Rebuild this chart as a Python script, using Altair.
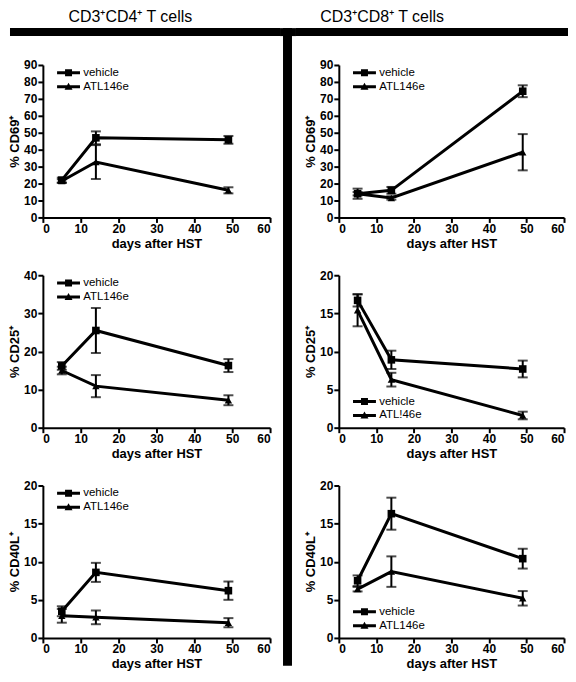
import altair as alt
import pandas as pd

# ---------------- data ----------------
days = [5, 14, 49]

cd4_cd69_vehicle = [22.0, 47.0, 45.8]
cd4_cd69_vehicle_err = [1.5, 3.8, 2.3]
cd4_cd69_atl = [21.5, 32.7, 16.0]
cd4_cd69_atl_err = [1.0, 10.0, 1.8]

cd8_cd69_vehicle = [14.0, 16.0, 74.5]
cd8_cd69_vehicle_err = [3.0, 2.0, 3.5]
cd8_cd69_atl = [14.0, 11.5, 38.5]
cd8_cd69_atl_err = [1.0, 1.0, 10.7]

cd4_cd25_vehicle = [16.2, 25.5, 16.3]
cd4_cd25_vehicle_err = [1.0, 5.9, 1.7]
cd4_cd25_atl = [15.0, 10.9, 7.2]
cd4_cd25_atl_err = [1.0, 2.9, 1.3]

cd8_cd25_vehicle = [16.7, 8.9, 7.7]
cd8_cd25_vehicle_err = [0.8, 1.2, 1.1]
cd8_cd25_atl = [15.4, 6.3, 1.6]
cd8_cd25_atl_err = [2.1, 0.9, 0.5]

cd4_cd40l_vehicle = [3.5, 8.6, 6.2]
cd4_cd40l_vehicle_err = [0.65, 1.25, 1.2]
cd4_cd40l_atl = [2.9, 2.7, 2.0]
cd4_cd40l_atl_err = [0.9, 0.9, 0.6]

cd8_cd40l_vehicle = [7.5, 16.3, 10.4]
cd8_cd40l_vehicle_err = [0.7, 2.1, 1.3]
cd8_cd40l_atl = [6.4, 8.7, 5.2]
cd8_cd40l_atl_err = [0.3, 2.0, 0.95]

x_ticks = [0, 10, 20, 30, 40, 50, 60]

FONT = "Liberation Sans"
W_L, W_R, H = 228, 226, 153
VSP = 19
SEP_W = 16
BAR_TOP = -37
BAR_H = 8

SYM_VEH = "M-2.3,-0.3H2.3V0.3H-2.3Z M-0.7,-0.7H0.7V0.7H-0.7Z"
SYM_ATL = "M-2.3,-0.3H2.3V0.3H-2.3Z M0,-0.8L0.8,0.6H-0.8Z"


def panel(veh, veh_err, atl, atl_err, ytitle, ymax, ystep, width,
          labels=("vehicle", "ATL146e"), xtitle="days after HST",
          legend_bottom=False, hbar=None):
    rows = []
    for name, vals, errs in ((labels[0], veh, veh_err), (labels[1], atl, atl_err)):
        for d, v, e in zip(days, vals, errs):
            rows.append({"day": d, "series": name, "mean": v,
                         "lo": v - e, "hi": v + e})
    df = pd.DataFrame(rows)

    xscale = alt.Scale(domain=[0, 60], nice=False)
    yscale = alt.Scale(domain=[0, ymax], nice=False)
    xaxis = alt.Axis(values=x_ticks, title=xtitle)
    yaxis = alt.Axis(values=list(range(0, ymax + 1, ystep)), title=ytitle)

    def X():
        return alt.X("day:Q", scale=xscale, axis=xaxis)

    def Y(field):
        return alt.Y(f"{field}:Q", scale=yscale, axis=yaxis)

    base = alt.Chart(df)
    err = base.mark_rule(color="black", strokeWidth=2).encode(
        x=X(), y=Y("lo"), y2="hi:Q")
    cap_hi = base.mark_tick(color="black", thickness=2, size=10,
                            orient="horizontal").encode(x=X(), y=Y("hi"))
    cap_lo = base.mark_tick(color="black", thickness=2, size=10,
                            orient="horizontal").encode(x=X(), y=Y("lo"))
    line = base.mark_line(color="black", strokeWidth=3).encode(
        x=X(), y=Y("mean"), detail="series:N")
    sq = base.transform_filter(alt.datum.series == labels[0]).mark_point(
        shape="square", filled=True, color="black", size=58, opacity=1
    ).encode(x=X(), y=Y("mean"))
    tri = base.transform_filter(alt.datum.series == labels[1]).mark_point(
        shape="triangle-up", filled=True, color="black", size=55, opacity=1
    ).encode(x=X(), y=Y("mean"))

    leg_y = H - 32 if legend_bottom else 2
    legend_layer = base.transform_filter("false").mark_point(
        filled=True, fill="black", strokeWidth=0, opacity=1
    ).encode(
        x=X(), y=Y("mean"),
        shape=alt.Shape(
            "series:N",
            scale=alt.Scale(domain=list(labels), range=[SYM_VEH, SYM_ATL]),
            legend=alt.Legend(
                title=None, orient="none", legendX=20, legendY=leg_y,
                symbolSize=100, symbolFillColor="black",
                symbolStrokeWidth=0, symbolOpacity=1,
                labelFont=FONT, labelFontSize=11.5, labelColor="black",
                labelOffset=9, rowPadding=1, padding=0)))

    layers = [line, err, cap_hi, cap_lo, sq, tri, legend_layer]
    if hbar is not None:
        layers.append(alt.Chart(pd.DataFrame({"k": [0]})).mark_rect(color="black").encode(
            x=alt.value(hbar[0]), x2=alt.value(hbar[1]),
            y=alt.value(BAR_TOP), y2=alt.value(BAR_TOP + BAR_H)))
    return alt.layer(*layers).properties(width=width, height=H).resolve_scale(
        shape="independent")


p1 = panel(cd4_cd69_vehicle, cd4_cd69_vehicle_err, cd4_cd69_atl, cd4_cd69_atl_err,
           "% CD69⁺", 90, 10, W_L, hbar=(-33, W_L + 10))
p2 = panel(cd8_cd69_vehicle, cd8_cd69_vehicle_err, cd8_cd69_atl, cd8_cd69_atl_err,
           "% CD69⁺", 90, 10, W_R, hbar=(-43, W_R + 4))
p3 = panel(cd4_cd25_vehicle, cd4_cd25_vehicle_err, cd4_cd25_atl, cd4_cd25_atl_err,
           "% CD25⁺", 40, 10, W_L)
p4 = panel(cd8_cd25_vehicle, cd8_cd25_vehicle_err, cd8_cd25_atl, cd8_cd25_atl_err,
           "% CD25⁺", 20, 5, W_R, labels=("vehicle", "ATL!46e"),
           xtitle="days after  HST", legend_bottom=True)
p5 = panel(cd4_cd40l_vehicle, cd4_cd40l_vehicle_err, cd4_cd40l_atl, cd4_cd40l_atl_err,
           "% CD40L⁺", 20, 5, W_L)
p6 = panel(cd8_cd40l_vehicle, cd8_cd40l_vehicle_err, cd8_cd40l_atl, cd8_cd40l_atl_err,
           "% CD40L⁺", 20, 5, W_R, legend_bottom=True)

title_params = dict(fontSize=16, fontWeight="normal", font=FONT, color="black",
                    offset=3, anchor="middle")

left = alt.vconcat(p1, p3, p5, spacing=VSP).properties(
    title=alt.TitleParams("CD3⁺CD4⁺ T cells", dx=-14, **title_params)
).resolve_scale(shape="independent").resolve_legend(shape="independent")
right = alt.vconcat(p2, p4, p6, spacing=VSP).properties(
    title=alt.TitleParams("CD3⁺CD8⁺ T cells", dx=-50, **title_params)
).resolve_scale(shape="independent").resolve_legend(shape="independent")

col_bottom = 3 * H + 2 * VSP + 106
sep_base = alt.Chart(pd.DataFrame({"k": [0]}))
vbar = sep_base.mark_rect(color="black").encode(
    x=alt.value(3), x2=alt.value(12), y=alt.value(BAR_TOP), y2=alt.value(col_bottom))
hbar_mid = sep_base.mark_rect(color="black").encode(
    x=alt.value(0), x2=alt.value(SEP_W), y=alt.value(BAR_TOP),
    y2=alt.value(BAR_TOP + BAR_H))
sep = alt.layer(vbar, hbar_mid).properties(width=SEP_W, height=3 * H + 2 * VSP + 60)

chart = alt.hconcat(left, sep, right, spacing=0).resolve_scale(
    shape="independent").resolve_legend(shape="independent").properties(
    padding=0
).configure_view(stroke=None).configure_axis(
    grid=False, domainColor="black", domainWidth=2, tickColor="black",
    tickWidth=2, tickSize=5, labelFont=FONT, labelFontSize=12,
    labelFontWeight="bold", labelColor="black", labelPadding=1,
    labelOverlap=False,
    titleFont=FONT, titleFontSize=13, titleFontWeight="bold",
    titleColor="black", titlePadding=3
).configure_axisY(labelPadding=1, titlePadding=2)

chart.save("out.html", embed_options={"renderer": "svg", "actions": False})
